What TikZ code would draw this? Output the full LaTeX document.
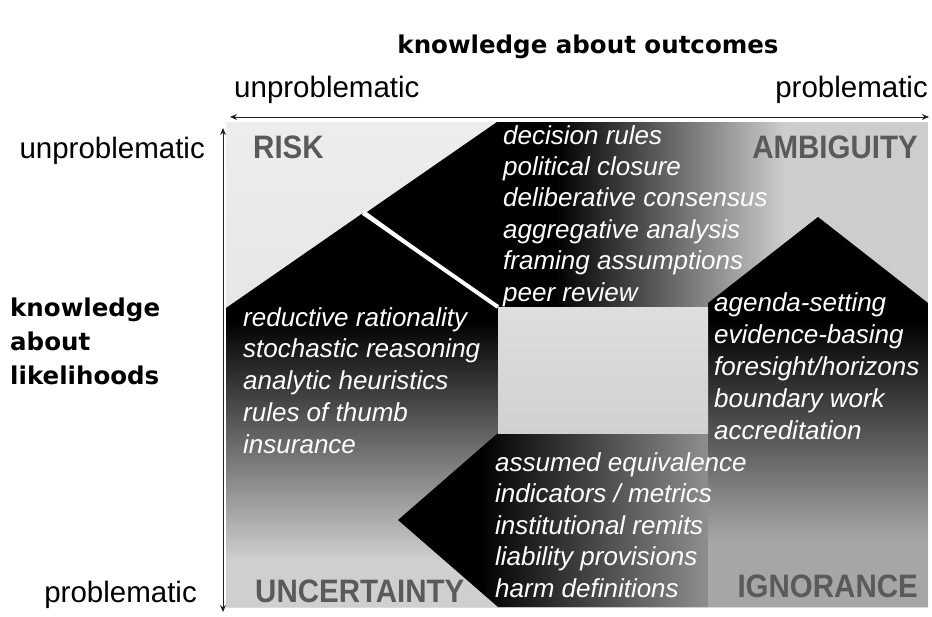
\documentclass[tikz,border=0pt]{standalone}
\usepackage{fontspec}
\setmainfont{Liberation Sans}
\newfontfamily\dvs{DejaVu Sans}
\usetikzlibrary{arrows.meta}
\definecolor{quadgray}{HTML}{5A5A5A}
\definecolor{bgpanel}{HTML}{E6E6E6}
\definecolor{topend}{HTML}{CDCDCD}
\definecolor{leftend}{HTML}{CFCFCF}
\definecolor{rightend}{HTML}{A6A6A6}
\definecolor{botend}{HTML}{8E8E8E}
\definecolor{axiscol}{HTML}{222222}
\newcommand{\tallq}[1]{\scalebox{1}[1.1]{#1}}
\begin{document}
\begin{tikzpicture}[x=1pt,y=-1pt,
  wlist/.style={anchor=base west, text=white, inner sep=0pt,
    font=\fontsize{26}{31}\selectfont\itshape},
  quadlabel/.style={inner sep=0pt, text=quadgray,
    font=\fontsize{29.5}{30}\selectfont\bfseries},
  axlabel/.style={inner sep=0pt, font=\fontsize{29.5}{30}\selectfont},
  headlabel/.style={inner sep=0pt, font=\dvs\bfseries\fontsize{24.5}{34}\selectfont},
  axisline/.style={draw=axiscol, line width=1pt,
    {Stealth[length=7pt,width=6pt]}-{Stealth[length=7pt,width=6pt]}}
]
\useasboundingbox (0,0) rectangle (932,616);

% panel background
\shade[top color=black!7, bottom color=black!14] (226,122) rectangle (928,607);

% left (upward) shape
\begin{scope}
  \clip (226,308) -- (363,213) -- (498,307) -- (498,607) -- (226,607) -- cycle;
  \fill[black] (226,200) rectangle (498,320);
  \shade[top color=black, bottom color=leftend] (226,320) rectangle (498,560);
  \fill[leftend] (226,560) rectangle (498,607);
\end{scope}

% top shape
\begin{scope}
  \clip (497,122) -- (367,212) -- (498,307) -- (928,307) -- (928,122) -- cycle;
  \fill[black] (360,122) rectangle (555,307);
  \shade[left color=black, right color=topend] (555,122) rectangle (785,307);
  \fill[topend] (785,122) rectangle (928,307);
\end{scope}

% right (upward) shape
\begin{scope}
  \clip (708,303) -- (818,217) -- (928,303) -- (928,607) -- (708,607) -- cycle;
  \fill[black] (708,210) rectangle (928,320);
  \shade[top color=black, bottom color=rightend] (708,320) rectangle (928,540);
  \fill[rightend] (708,540) rectangle (928,607);
\end{scope}

% bottom (leftward) shape
\begin{scope}
  \clip (498,433) -- (398,520) -- (498,607) -- (708,607) -- (708,433) -- cycle;
  \fill[black] (395,433) rectangle (480,607);
  \shade[left color=black, right color=botend] (480,433) rectangle (708,607);
\end{scope}

% centre
\shade[top color=black!13, bottom color=black!18] (498,307) rectangle (708,433);

% white gap line
\coordinate (gapA) at (363,213);
\coordinate (gapB) at (498,307);
\draw[white, line width=4pt] (gapA) -- (gapB);

% axes
\coordinate (hl) at (230,117);
\coordinate (hr) at (929,117);
\coordinate (vt) at (223,128);
\coordinate (vb) at (223,612);
\draw[axisline] (hl) -- (hr);
\draw[axisline] (vt) -- (vb);

% headings
\node[headlabel, anchor=base] (outc) at (588,53) {knowledge about outcomes};
\node[headlabel, anchor=base west] (lk1) at (10,316) {knowledge};
\node[headlabel, anchor=base west] (lk2) at (10,350) {about};
\node[headlabel, anchor=base west] (lk3) at (10,384) {likelihoods};

% axis labels
\node[axlabel, anchor=base west] (xun) at (234,97) {unproblematic};
\node[axlabel, anchor=base east] (xpr) at (928,97) {problematic};
\node[axlabel, anchor=base east] (yun) at (205,158) {unproblematic};
\node[axlabel, anchor=base east] (ypr) at (197,602) {problematic};

% quadrant labels
\node[quadlabel, anchor=base west] (risk) at (253,158) {\tallq{RISK}};
\node[quadlabel, anchor=base east] (amb) at (918,158) {\tallq{AMBIGUITY}};
\node[quadlabel, anchor=base west] (unc) at (255,602) {\tallq{UNCERTAINTY}};
\node[quadlabel, anchor=base east] (ign) at (918,597) {\tallq{IGNORANCE}};

% white lists
\foreach \t [count=\i] in {decision rules, political closure, deliberative consensus,
  aggregative analysis, framing assumptions, peer review}
  \node[wlist] (top\i) at (503,{144+31.4*(\i-1)}) {\t};
\foreach \t [count=\i] in {reductive rationality, stochastic reasoning,
  analytic heuristics, rules of thumb, insurance}
  \node[wlist] (lft\i) at (243,{326+31.8*(\i-1)}) {\t};
\foreach \t [count=\i] in {agenda-setting, evidence-basing, foresight/horizons,
  boundary work, accreditation}
  \node[wlist] (rgt\i) at (714,{311+32*(\i-1)}) {\t};
\foreach \t [count=\i] in {assumed equivalence, indicators / metrics,
  institutional remits, liability provisions, harm definitions}
  \node[wlist] (bot\i) at (495,{471+31.6*(\i-1)}) {\t};
\end{tikzpicture}
\end{document}
